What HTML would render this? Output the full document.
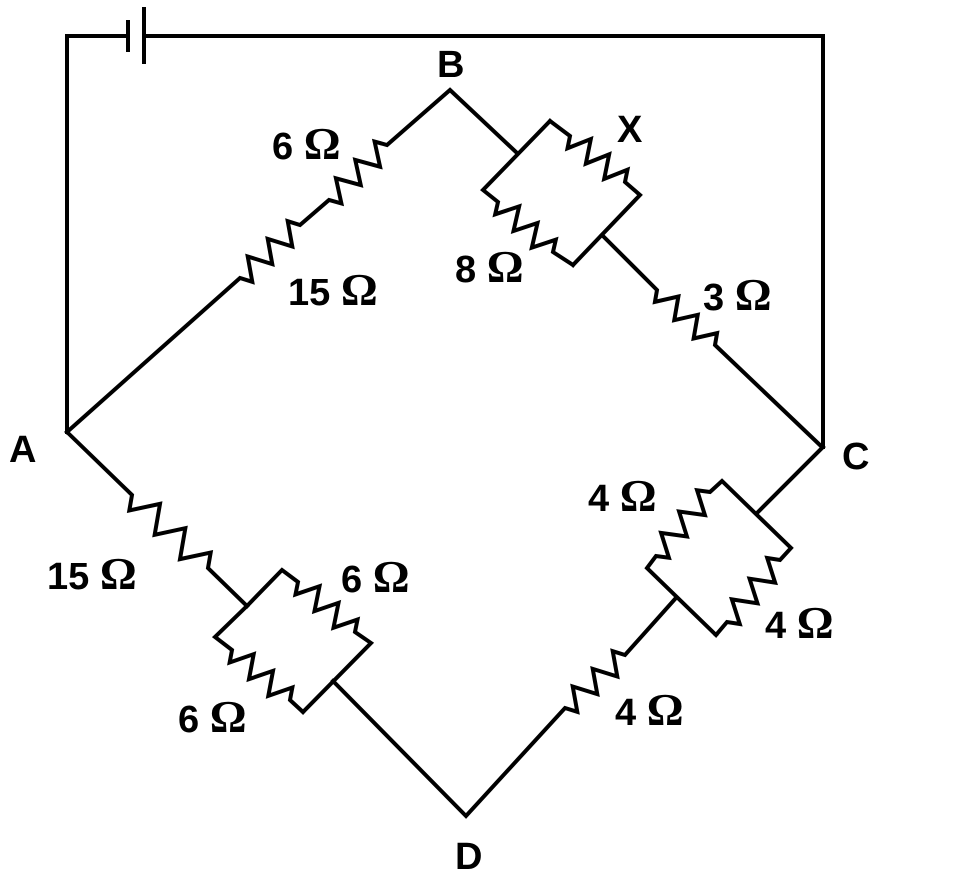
<!DOCTYPE html>
<html><head><meta charset="utf-8"><style>
html,body{margin:0;padding:0;background:#fff;}
svg{display:block}
text{font-family:"Liberation Sans",sans-serif;font-weight:bold;font-size:38px;fill:#000}
tspan.o{font-family:"Liberation Serif",serif;font-weight:bold;font-size:46px}
</style></head><body>
<svg id="s" width="967" height="879" viewBox="0 0 967 879" xmlns="http://www.w3.org/2000/svg">
<g id="w" fill="none" stroke="#000" stroke-width="4" stroke-linejoin="miter" stroke-linecap="square">
<polyline points="128,36 67,36 67,432"/>
<polyline points="144,36 823,36 823,447"/>
<line x1="128" y1="22" x2="128" y2="50"/>
<line x1="144" y1="9" x2="144" y2="62"/>
</g>
<text x="437" y="77">B</text>
<text x="617" y="142">X</text>
<text x="272" y="159">6 <tspan class="o">Ω</tspan></text>
<text x="288" y="305">15 <tspan class="o">Ω</tspan></text>
<text x="455" y="282">8 <tspan class="o">Ω</tspan></text>
<text x="703" y="310">3 <tspan class="o">Ω</tspan></text>
<text x="9" y="462">A</text>
<text x="842" y="469">C</text>
<text x="588" y="511">4 <tspan class="o">Ω</tspan></text>
<text x="47" y="589">15 <tspan class="o">Ω</tspan></text>
<text x="341" y="592">6 <tspan class="o">Ω</tspan></text>
<text x="765" y="638">4 <tspan class="o">Ω</tspan></text>
<text x="178" y="732">6 <tspan class="o">Ω</tspan></text>
<text x="615" y="725">4 <tspan class="o">Ω</tspan></text>
<text x="455" y="869">D</text>
</svg>
<script>
var g=document.getElementById('w');
function pl(pts){var p=document.createElementNS('http://www.w3.org/2000/svg','polyline');p.setAttribute('points',pts.map(function(a){return a[0]+','+a[1]}).join(' '));g.appendChild(p);}
function zz(a,b,n,amp){
  var dx=b[0]-a[0],dy=b[1]-a[1],L=Math.hypot(dx,dy),ux=dx/L,uy=dy/L,nx=-uy,ny=ux;
  var pts=[a];var k=2*n;
  for(var i=0;i<k;i++){var t=(i+0.5)/k;var s=(i%2?-1:1)*amp;pts.push([a[0]+dx*t+nx*s,a[1]+dy*t+ny*s]);}
  pts.push(b);return pts;
}
function path(list){var out=[];list.forEach(function(seg){if(seg.z){var z=zz(seg.a,seg.b,seg.n,seg.amp);z.forEach(function(p){out.push(p)});}else out.push(seg);});pl(out);}
// A-B
path([[67,432],{z:1,a:[240,278],b:[300,225],n:3,amp:11},{z:1,a:[329,200],b:[387,145],n:3,amp:11},[450,90],[517,153]]);
// X box
path([[550,121],{z:1,a:[570,136],b:[625,182],n:3,amp:11},[640,195],[573,265]]);
path([[550,121],[483,190],{z:1,a:[498,202],b:[553,252],n:3,amp:11},[573,265]]);
// to C
path([[602,235],{z:1,a:[657,290],b:[715,345],n:3,amp:10},[822,447]]);
// A-D
path([[67,432],{z:1,a:[132,495],b:[208,568],n:3,amp:13},[247,606]]);
path([[247,606],[282,570],{z:1,a:[298,582],b:[355,632],n:3,amp:11},[371,643],[303,712]]);
path([[247,606],[215,637],{z:1,a:[232,650],b:[290,700],n:3,amp:11},[303,712]]);
path([[333,681],[466,816],{z:1,a:[565,708],b:[625,655],n:3,amp:11},[675,599]]);
// DC box
path([[716,635],[647,568],{z:1,a:[656,556],b:[710,492],n:3,amp:11},[722,481],[791,548],{z:1,a:[780,560],b:[727,622],n:3,amp:11},[716,635]]);
path([[757,513],[823,447]]);
</script>
</body></html>
